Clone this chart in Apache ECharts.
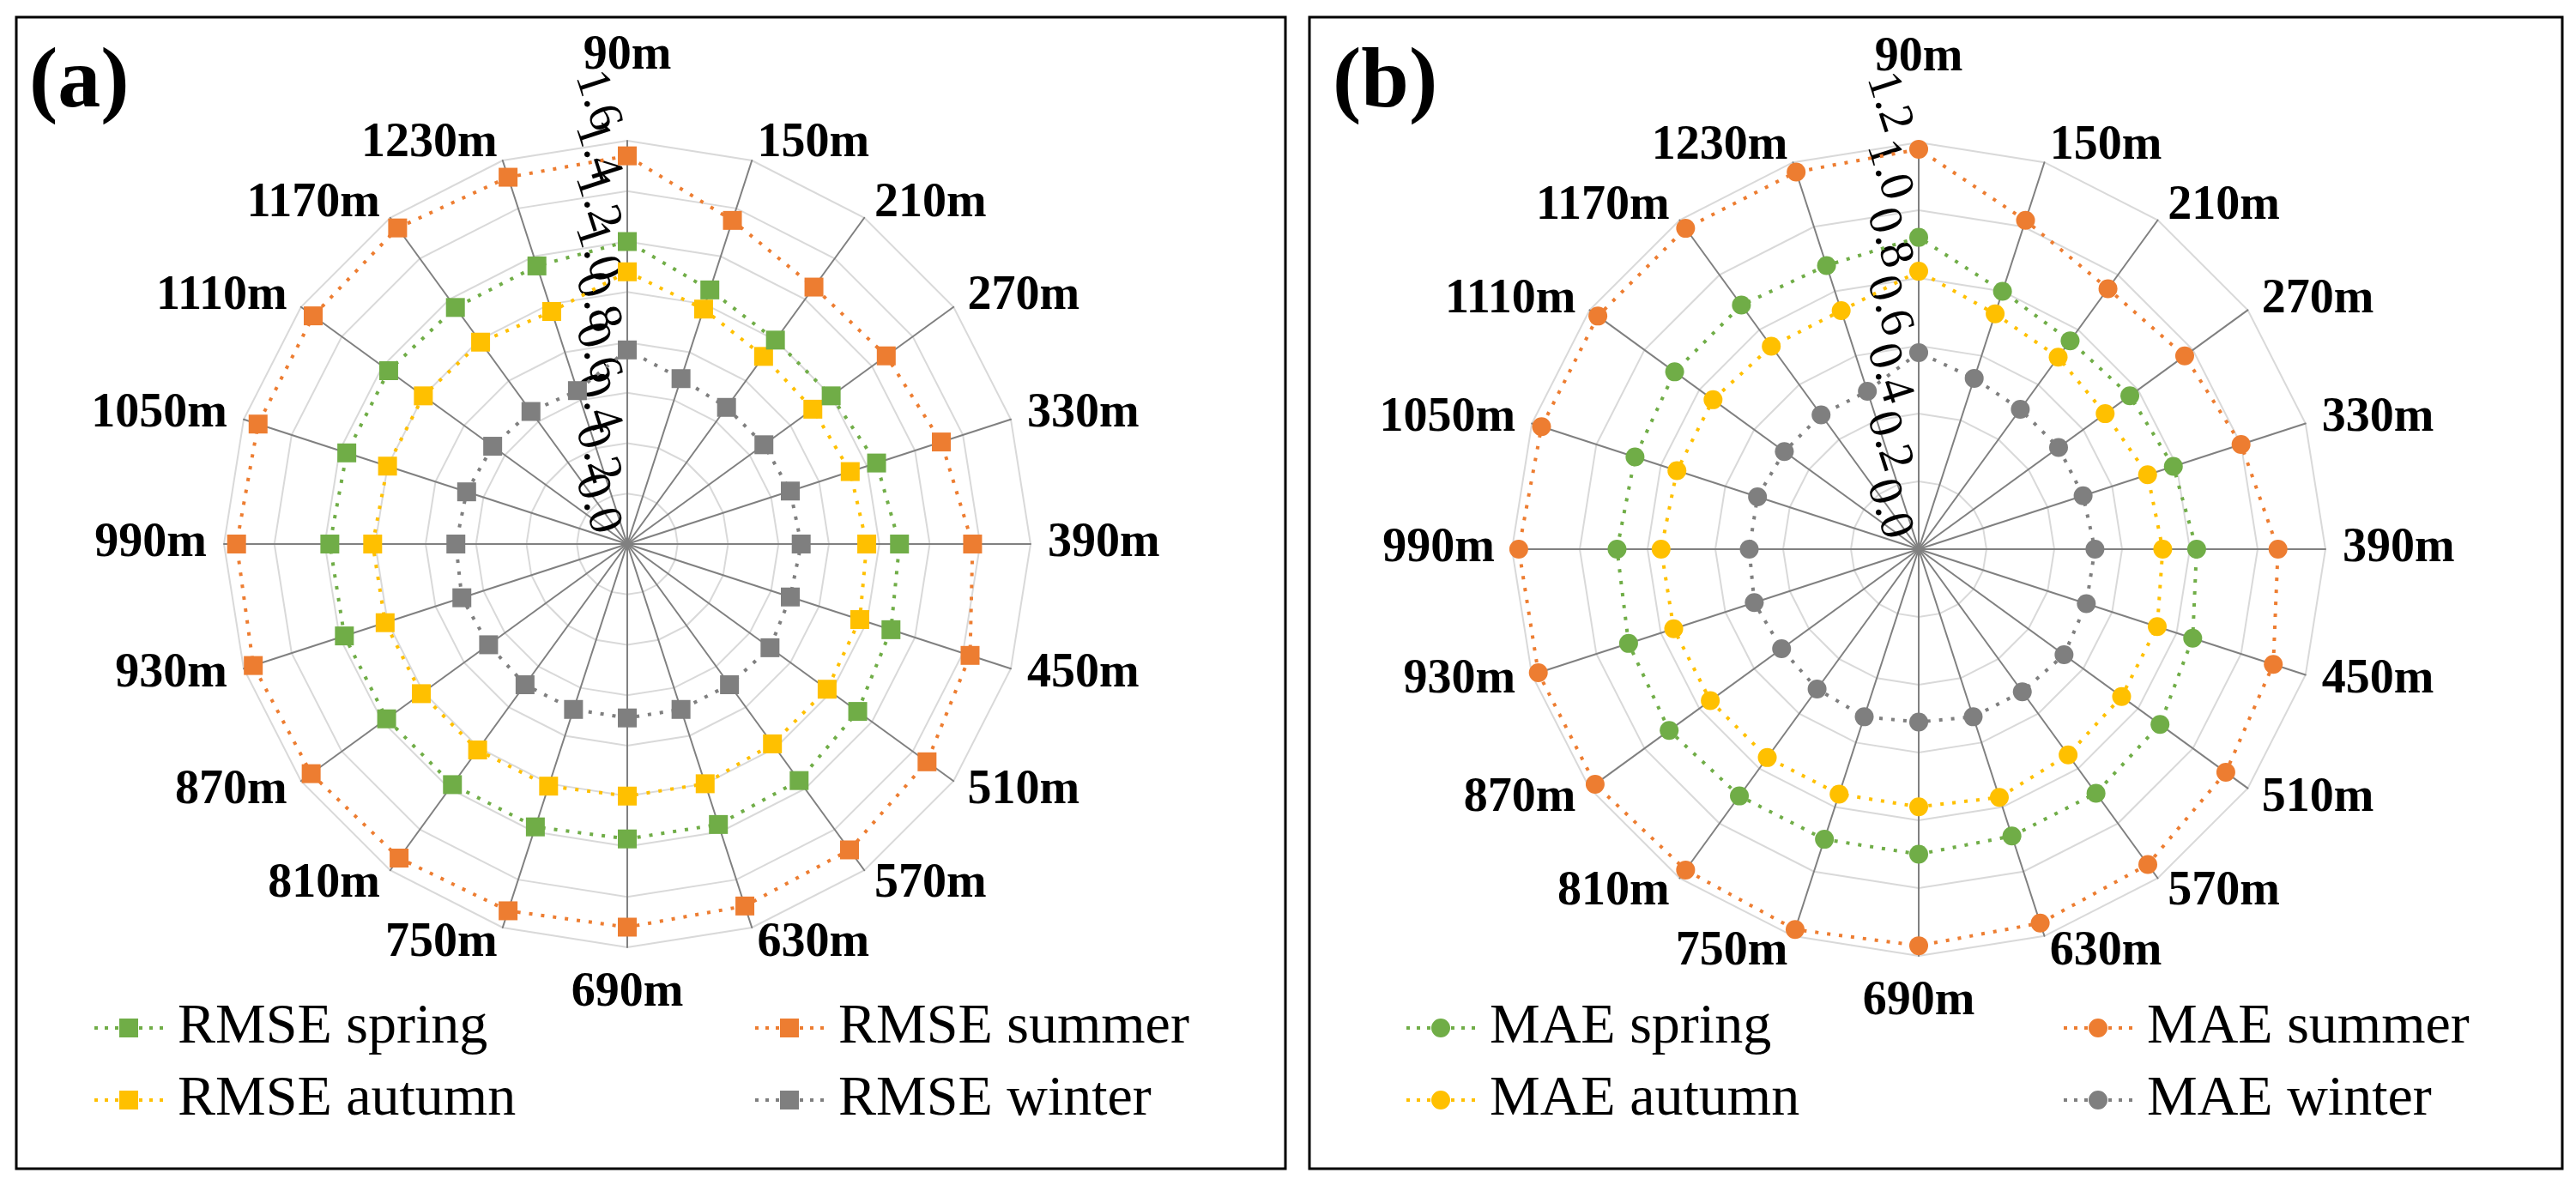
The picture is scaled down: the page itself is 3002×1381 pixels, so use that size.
<!DOCTYPE html>
<html>
<head>
<meta charset="utf-8">
<script src="https://cdn.jsdelivr.net/npm/echarts@6/dist/echarts.min.js"></script>
<style>
html,body{margin:0;padding:0;background:#fff;}
#chart{width:3002px;height:1381px;}
</style>
</head>
<body>
<div id="chart"></div>
<script>
// ---- data ----
const heights = ['90m','150m','210m','270m','330m','390m','450m','510m','570m','630m','690m','750m','810m','870m','930m','990m','1050m','1110m','1170m','1230m'];

const rmseSpring = [1.20,1.06,1.00,1.00,1.04,1.08,1.10,1.13,1.16,1.17,1.17,1.18,1.18,1.18,1.18,1.18,1.17,1.17,1.16,1.16];
const rmseSummer = [1.54,1.35,1.26,1.27,1.31,1.37,1.43,1.47,1.50,1.51,1.52,1.53,1.54,1.55,1.56,1.55,1.54,1.54,1.55,1.53];
const rmseAutumn = [1.08,0.98,0.92,0.91,0.93,0.95,0.97,0.98,0.98,1.00,1.00,1.01,1.01,1.01,1.01,1.01,1.00,1.00,0.99,0.97];
const rmseWinter = [0.77,0.69,0.67,0.67,0.68,0.69,0.68,0.70,0.69,0.69,0.69,0.69,0.69,0.68,0.69,0.68,0.67,0.66,0.65,0.64];

const maeSpring = [0.92,0.80,0.76,0.77,0.79,0.82,0.85,0.88,0.89,0.89,0.90,0.90,0.90,0.91,0.90,0.89,0.88,0.89,0.89,0.88];
const maeSummer = [1.18,1.02,0.95,0.97,1.00,1.06,1.10,1.12,1.15,1.16,1.17,1.18,1.17,1.18,1.18,1.18,1.17,1.17,1.17,1.17];
const maeAutumn = [0.82,0.73,0.70,0.68,0.71,0.72,0.74,0.74,0.75,0.77,0.76,0.76,0.76,0.76,0.76,0.76,0.75,0.75,0.74,0.74];
const maeWinter = [0.58,0.53,0.51,0.51,0.51,0.52,0.52,0.53,0.52,0.52,0.51,0.52,0.51,0.50,0.51,0.50,0.50,0.49,0.49,0.49];

const rmseMax = 1.6, rmseSplits = 8;
const maeMax = 1.2, maeSplits = 6;

// ---- styling ----
const SERIF = "'Liberation Serif', serif";
const C_SPRING = '#70AD47', C_SUMMER = '#ED7D31', C_AUTUMN = '#FFC000', C_WINTER = '#7F7F7F';

// ECharts radar runs counter-clockwise; reference runs clockwise from top
const order = [0].concat(Array.from({length: heights.length - 1}, (_, i) => heights.length - 1 - i));
const reorder = arr => order.map(i => arr[i]);

function makeIndicators(max) {
  return order.map((i, k) => {
    const ind = { name: heights[i], min: 0, max: max };
    if (k === 0) { ind.axisLabel = { show: true }; ind.nameGap = 70; ind.nameMoveOverlap = false; }
    if (heights[i] === '690m') { ind.nameGap = 26; }
    return ind;
  });
}

// parity: 0 -> this radar labels even ticks, 1 -> odd ticks (avoids ECharts hiding overlapping min/max neighbours)
function tickLabel(max, splits, parity) {
  const step = max / splits;
  return v => {
    const k = Math.round(v / step);
    return (k % 2 === parity) ? Number(v).toFixed(1) + ' ' : '';
  };
}

function makeRadar(center, radius, max, splits, parity) {
  const main = parity === 0;
  return {
    center: center, radius: radius, startAngle: 90, shape: 'polygon',
    splitNumber: splits,
    indicator: makeIndicators(max),
    nameGap: 20,
    axisName: { show: main, color: '#000', fontFamily: SERIF, fontWeight: 'bold', fontSize: 56 },
    splitLine: { show: main, lineStyle: { color: '#D9D9D9', width: 2 } },
    splitArea: { show: false },
    axisLine: { show: main, lineStyle: { color: '#808080', width: 2 } },
    axisTick: { show: false },
    axisLabel: { show: false, color: '#000', fontFamily: SERIF, fontSize: 56, rotate: -72, margin: 20,
      showMinLabel: main, showMaxLabel: main,
      formatter: tickLabel(max, splits, parity) }
  };
}

function makeSeries(radarIndex, name, values, color, symbol) {
  return {
    type: 'radar', radarIndex: radarIndex, name: name,
    symbol: symbol, symbolSize: 22,
    itemStyle: { color: color, borderWidth: 0 },
    lineStyle: { color: color, width: 4, type: [4, 10] },
    data: [{ name: name, value: reorder(values) }]
  };
}

const dots = 'M0 8h4v4h-4Z M12 8h4v4h-4Z M24 8h4v4h-4Z M52 8h4v4h-4Z M64 8h4v4h-4Z M76 8h4v4h-4Z';
const rectIcon = 'path://' + dots + ' M29 -1h22v22h-22Z M92 10';
const circIcon = 'path://' + dots + ' M51 10A11 11 0 1 1 29 10A11 11 0 1 1 51 10Z M92 10';

function makeLegend(names, icon, left, top) {
  return {
    orient: 'vertical', left: left, top: top, padding: 0,
    itemGap: 18, itemWidth: 92, itemHeight: 22,
    selectedMode: false,
    itemStyle: { borderWidth: 0 },
    textStyle: { fontFamily: SERIF, fontSize: 66, color: '#000' },
    data: names.map(n => ({ name: n, icon: icon }))
  };
}

const centerA = [731, 634], centerB = [2236, 640];

const chart = echarts.init(document.getElementById('chart'), null, { renderer: 'canvas' });
chart.setOption({
  animation: false,
  backgroundColor: '#fff',
  title: [
    { text: '(a)', left: 34, top: 48, padding: 0,
      textStyle: { fontFamily: SERIF, fontWeight: 'bold', fontSize: 100, color: '#000' } },
    { text: '(b)', left: 1553, top: 48, padding: 0,
      textStyle: { fontFamily: SERIF, fontWeight: 'bold', fontSize: 100, color: '#000' } }
  ],
  graphic: [
    { type: 'rect', shape: { x: 19, y: 20, width: 1479, height: 1342 },
      style: { fill: 'none', stroke: '#000', lineWidth: 3 }, silent: true },
    { type: 'rect', shape: { x: 1526, y: 20, width: 1460, height: 1342 },
      style: { fill: 'none', stroke: '#000', lineWidth: 3 }, silent: true }
  ],
  radar: [
    makeRadar(centerA, 470, rmseMax, rmseSplits, 0),
    makeRadar(centerB, 474, maeMax, maeSplits, 0),
    makeRadar(centerA, 470, rmseMax, rmseSplits, 1),
    makeRadar(centerB, 474, maeMax, maeSplits, 1)
  ],
  legend: [
    makeLegend(['RMSE spring', 'RMSE autumn'], rectIcon, 110, 1165),
    makeLegend(['RMSE summer', 'RMSE winter'], rectIcon, 880, 1165),
    makeLegend(['MAE spring', 'MAE autumn'], circIcon, 1639, 1165),
    makeLegend(['MAE summer', 'MAE winter'], circIcon, 2405, 1165)
  ],
  series: [
    makeSeries(0, 'RMSE winter', rmseWinter, C_WINTER, 'rect'),
    makeSeries(0, 'RMSE autumn', rmseAutumn, C_AUTUMN, 'rect'),
    makeSeries(0, 'RMSE spring', rmseSpring, C_SPRING, 'rect'),
    makeSeries(0, 'RMSE summer', rmseSummer, C_SUMMER, 'rect'),
    makeSeries(1, 'MAE winter', maeWinter, C_WINTER, 'circle'),
    makeSeries(1, 'MAE autumn', maeAutumn, C_AUTUMN, 'circle'),
    makeSeries(1, 'MAE spring', maeSpring, C_SPRING, 'circle'),
    makeSeries(1, 'MAE summer', maeSummer, C_SUMMER, 'circle')
  ]
});
</script>
</body>
</html>
